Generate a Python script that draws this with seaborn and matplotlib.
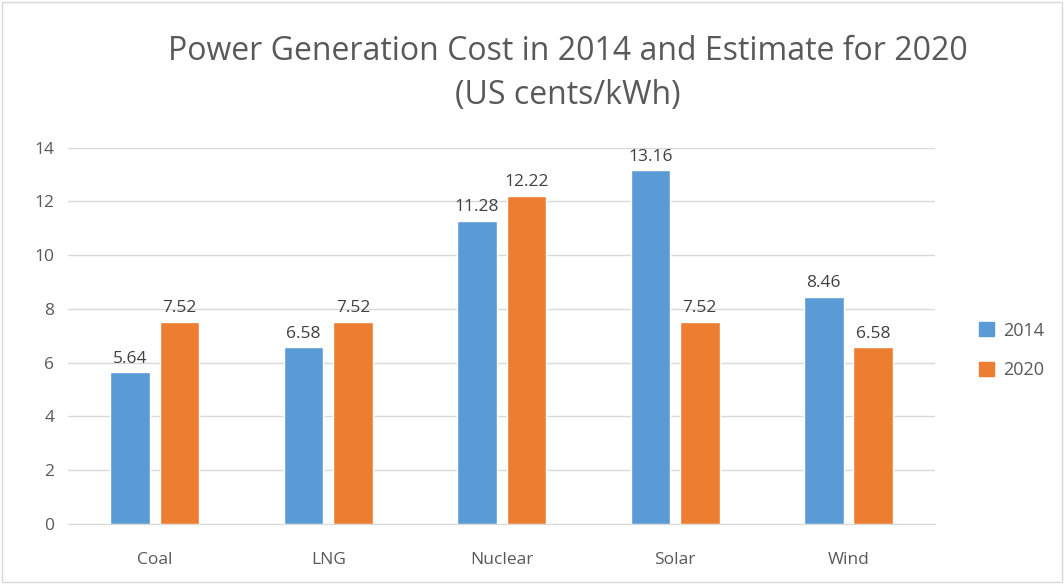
import pandas as pd
import matplotlib
matplotlib.use("Agg")
import matplotlib.pyplot as plt
import seaborn as sns

# values
sources = ["Coal", "LNG", "Nuclear", "Solar", "Wind"]
cost_2014 = [5.64, 6.58, 11.28, 13.16, 8.46]
cost_2020 = [7.52, 7.52, 12.22, 7.52, 6.58]
years = ["2014", "2020"]
colors = ["#5b9bd5", "#ed7d31"]
y_ticks = [0, 2, 4, 6, 8, 10, 12, 14]

df = pd.DataFrame({
    "source": sources * 2,
    "year": [years[0]] * len(sources) + [years[1]] * len(sources),
    "cost": cost_2014 + cost_2020,
})

sns.set_style("white")
plt.rcParams["font.family"] = ["Open Sans", "DejaVu Sans"]

fig = plt.figure(figsize=(10.64, 5.84), dpi=100)
ax = fig.add_axes([0.064, 0.103, 0.815, 0.644])

sns.barplot(data=df, x="source", y="cost", hue="year", palette=colors,
            saturation=1, width=0.57, gap=0.2, ax=ax, legend=False, zorder=3)

for cont in ax.containers:
    ax.bar_label(cont, fmt="%.2f", padding=4, fontsize=12.5, color="#404040")

ax.set_ylim(0, 14)
ax.set_yticks(y_ticks)
ax.set_xlim(-0.5, len(sources) - 0.5)
ax.grid(axis="y", color="#d9d9d9", linewidth=1, zorder=0)
for s in ["top", "right", "left"]:
    ax.spines[s].set_visible(False)
ax.spines["bottom"].set_color("#d9d9d9")
ax.tick_params(axis="y", length=0, labelsize=12.5, labelcolor="#595959", pad=10)
ax.tick_params(axis="x", length=0, labelsize=12.5, labelcolor="#595959", pad=20)
ax.set_xlabel("")
ax.set_ylabel("")

fig.suptitle("Power Generation Cost in 2014 and Estimate for 2020\n(US cents/kWh)",
             x=0.534, y=0.94, fontsize=23, color="#595959", linespacing=1.45)

handles = [plt.Rectangle((0, 0), 1, 1, color=c) for c in colors]
fig.legend(handles, years, loc="center left", bbox_to_anchor=(0.905, 0.40),
           frameon=False, fontsize=13, labelcolor="#595959",
           handlelength=0.8, handleheight=0.8, labelspacing=1.2, handletextpad=0.5)

fig.patches.append(plt.Rectangle((0.002, 0.003), 0.996, 0.994, transform=fig.transFigure,
                                 fill=False, edgecolor="#d9d9d9", linewidth=1))

fig.savefig("out.png", dpi=100)
